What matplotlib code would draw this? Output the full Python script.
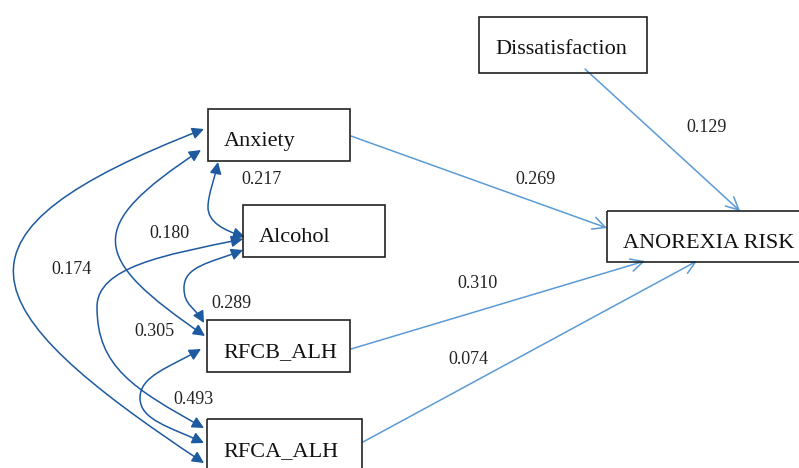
import numpy as np
import matplotlib
matplotlib.use("Agg")
import matplotlib.pyplot as plt
from matplotlib.patches import Rectangle, FancyArrowPatch
from matplotlib.path import Path

# ---------------- data ----------------
nodes = ["Dissatisfaction", "Anxiety", "Alcohol", "RFCB_ALH", "RFCA_ALH", "ANOREXIA RISK"]
path_from = ["Dissatisfaction", "Anxiety", "RFCB_ALH", "RFCA_ALH"]
path_to = ["ANOREXIA RISK", "ANOREXIA RISK", "ANOREXIA RISK", "ANOREXIA RISK"]
path_coef = [0.129, 0.269, 0.310, 0.074]
cov_a = ["Anxiety", "Alcohol", "Anxiety", "Alcohol", "RFCB_ALH", "Anxiety"]
cov_b = ["Alcohol", "RFCB_ALH", "RFCB_ALH", "RFCA_ALH", "RFCA_ALH", "RFCA_ALH"]
cov_coef = [0.217, 0.289, 0.180, 0.305, 0.493, 0.174]

# ---------------- layout (pixels, y down) ----------------
boxes = {  # x0, y0, x1, y1
    "Dissatisfaction": (479, 17, 647, 73),
    "Anxiety": (208, 109, 350, 161),
    "Alcohol": (243, 205, 385, 257),
    "RFCB_ALH": (207, 320, 350, 372),
    "RFCA_ALH": (207, 419, 362, 472),
    "ANOREXIA RISK": (607, 211, 805, 262),
}
path_ends = {
    "Dissatisfaction": ((585, 69), (740, 211)),
    "Anxiety": ((351, 136), (607, 228)),
    "RFCB_ALH": ((351, 349), (645, 261)),
    "RFCA_ALH": ((363, 442), (697, 261)),
}
path_label_pos = {
    "Dissatisfaction": (707, 128),
    "Anxiety": (535, 180),
    "RFCB_ALH": (477, 283),
    "RFCA_ALH": (468, 360),
}
# cubic Bezier control polygons (start, c1, c2, end, [c1, c2, end, ...])
cov_ctrl = [
    [(218, 162), (215, 177), (208, 195), (208, 207), (208, 222), (223, 230), (245, 237)],
    [(243, 250), (210, 263), (184, 266), (184, 288), (184, 306), (195, 307), (204, 323)],
    [(201, 150), (84, 227), (89.5, 257), (205, 336)],
    [(243, 239), (164, 255), (97, 267), (97, 307), (97, 367), (134, 389), (204, 428)],
    [(201, 349), (168, 368), (140, 376), (140, 398), (140, 420), (170, 427), (204, 443)],
    [(204, 129), (-64, 233), (-35, 305), (204, 463)],
]
cov_label_pos = [(262, 180), (231, 303), (169, 234), (154, 332), (193, 400), (72, 269)]

LIGHT = "#5b9bd5"
DARK = "#1d5aa0"
FONT = "Liberation Serif"

W, H = 799, 468
fig = plt.figure(figsize=(W / 100, H / 100), dpi=100)
ax = fig.add_axes([0, 0, 1, 1])
ax.set_xlim(0, W)
ax.set_ylim(H, 0)
ax.axis("off")

for name in nodes:
    x0, y0, x1, y1 = boxes[name]
    ax.add_patch(Rectangle((x0, y0), x1 - x0, y1 - y0, fill=False,
                           edgecolor="#222222", lw=1.2, zorder=3))
    ax.text(x0 + 16, y0 + 37, name, fontsize=16, family=FONT,
            ha="left", va="baseline", color="#111111", zorder=4)


def bezier_path(ctrl):
    codes = [Path.MOVETO] + [Path.CURVE4] * (len(ctrl) - 1)
    return Path(ctrl, codes)


for src, dst, coef in zip(path_from, path_to, path_coef):
    (xa, ya), (xb, yb) = path_ends[src]
    arr = FancyArrowPatch((xa, ya), (xb, yb), arrowstyle="->,head_length=0.9,head_width=0.45",
                          mutation_scale=10, color=LIGHT, lw=1.1,
                          shrinkA=0, shrinkB=0, zorder=2)
    ax.add_patch(arr)
    lx, ly = path_label_pos[src]
    ax.text(lx, ly, f"{coef:.3f}", fontsize=13, family=FONT, ha="center",
            va="center", color="#222222", zorder=4)

for ctrl, coef, (lx, ly) in zip(cov_ctrl, cov_coef, cov_label_pos):
    arr = FancyArrowPatch(path=bezier_path(ctrl),
                          arrowstyle="<|-|>,head_length=0.7,head_width=0.35",
                          mutation_scale=10, color=DARK, lw=1.1, zorder=2)
    ax.add_patch(arr)
    ax.text(lx, ly, f"{coef:.3f}", fontsize=13, family=FONT, ha="center",
            va="center", color="#222222", zorder=4)

fig.savefig("out.png", dpi=100)
